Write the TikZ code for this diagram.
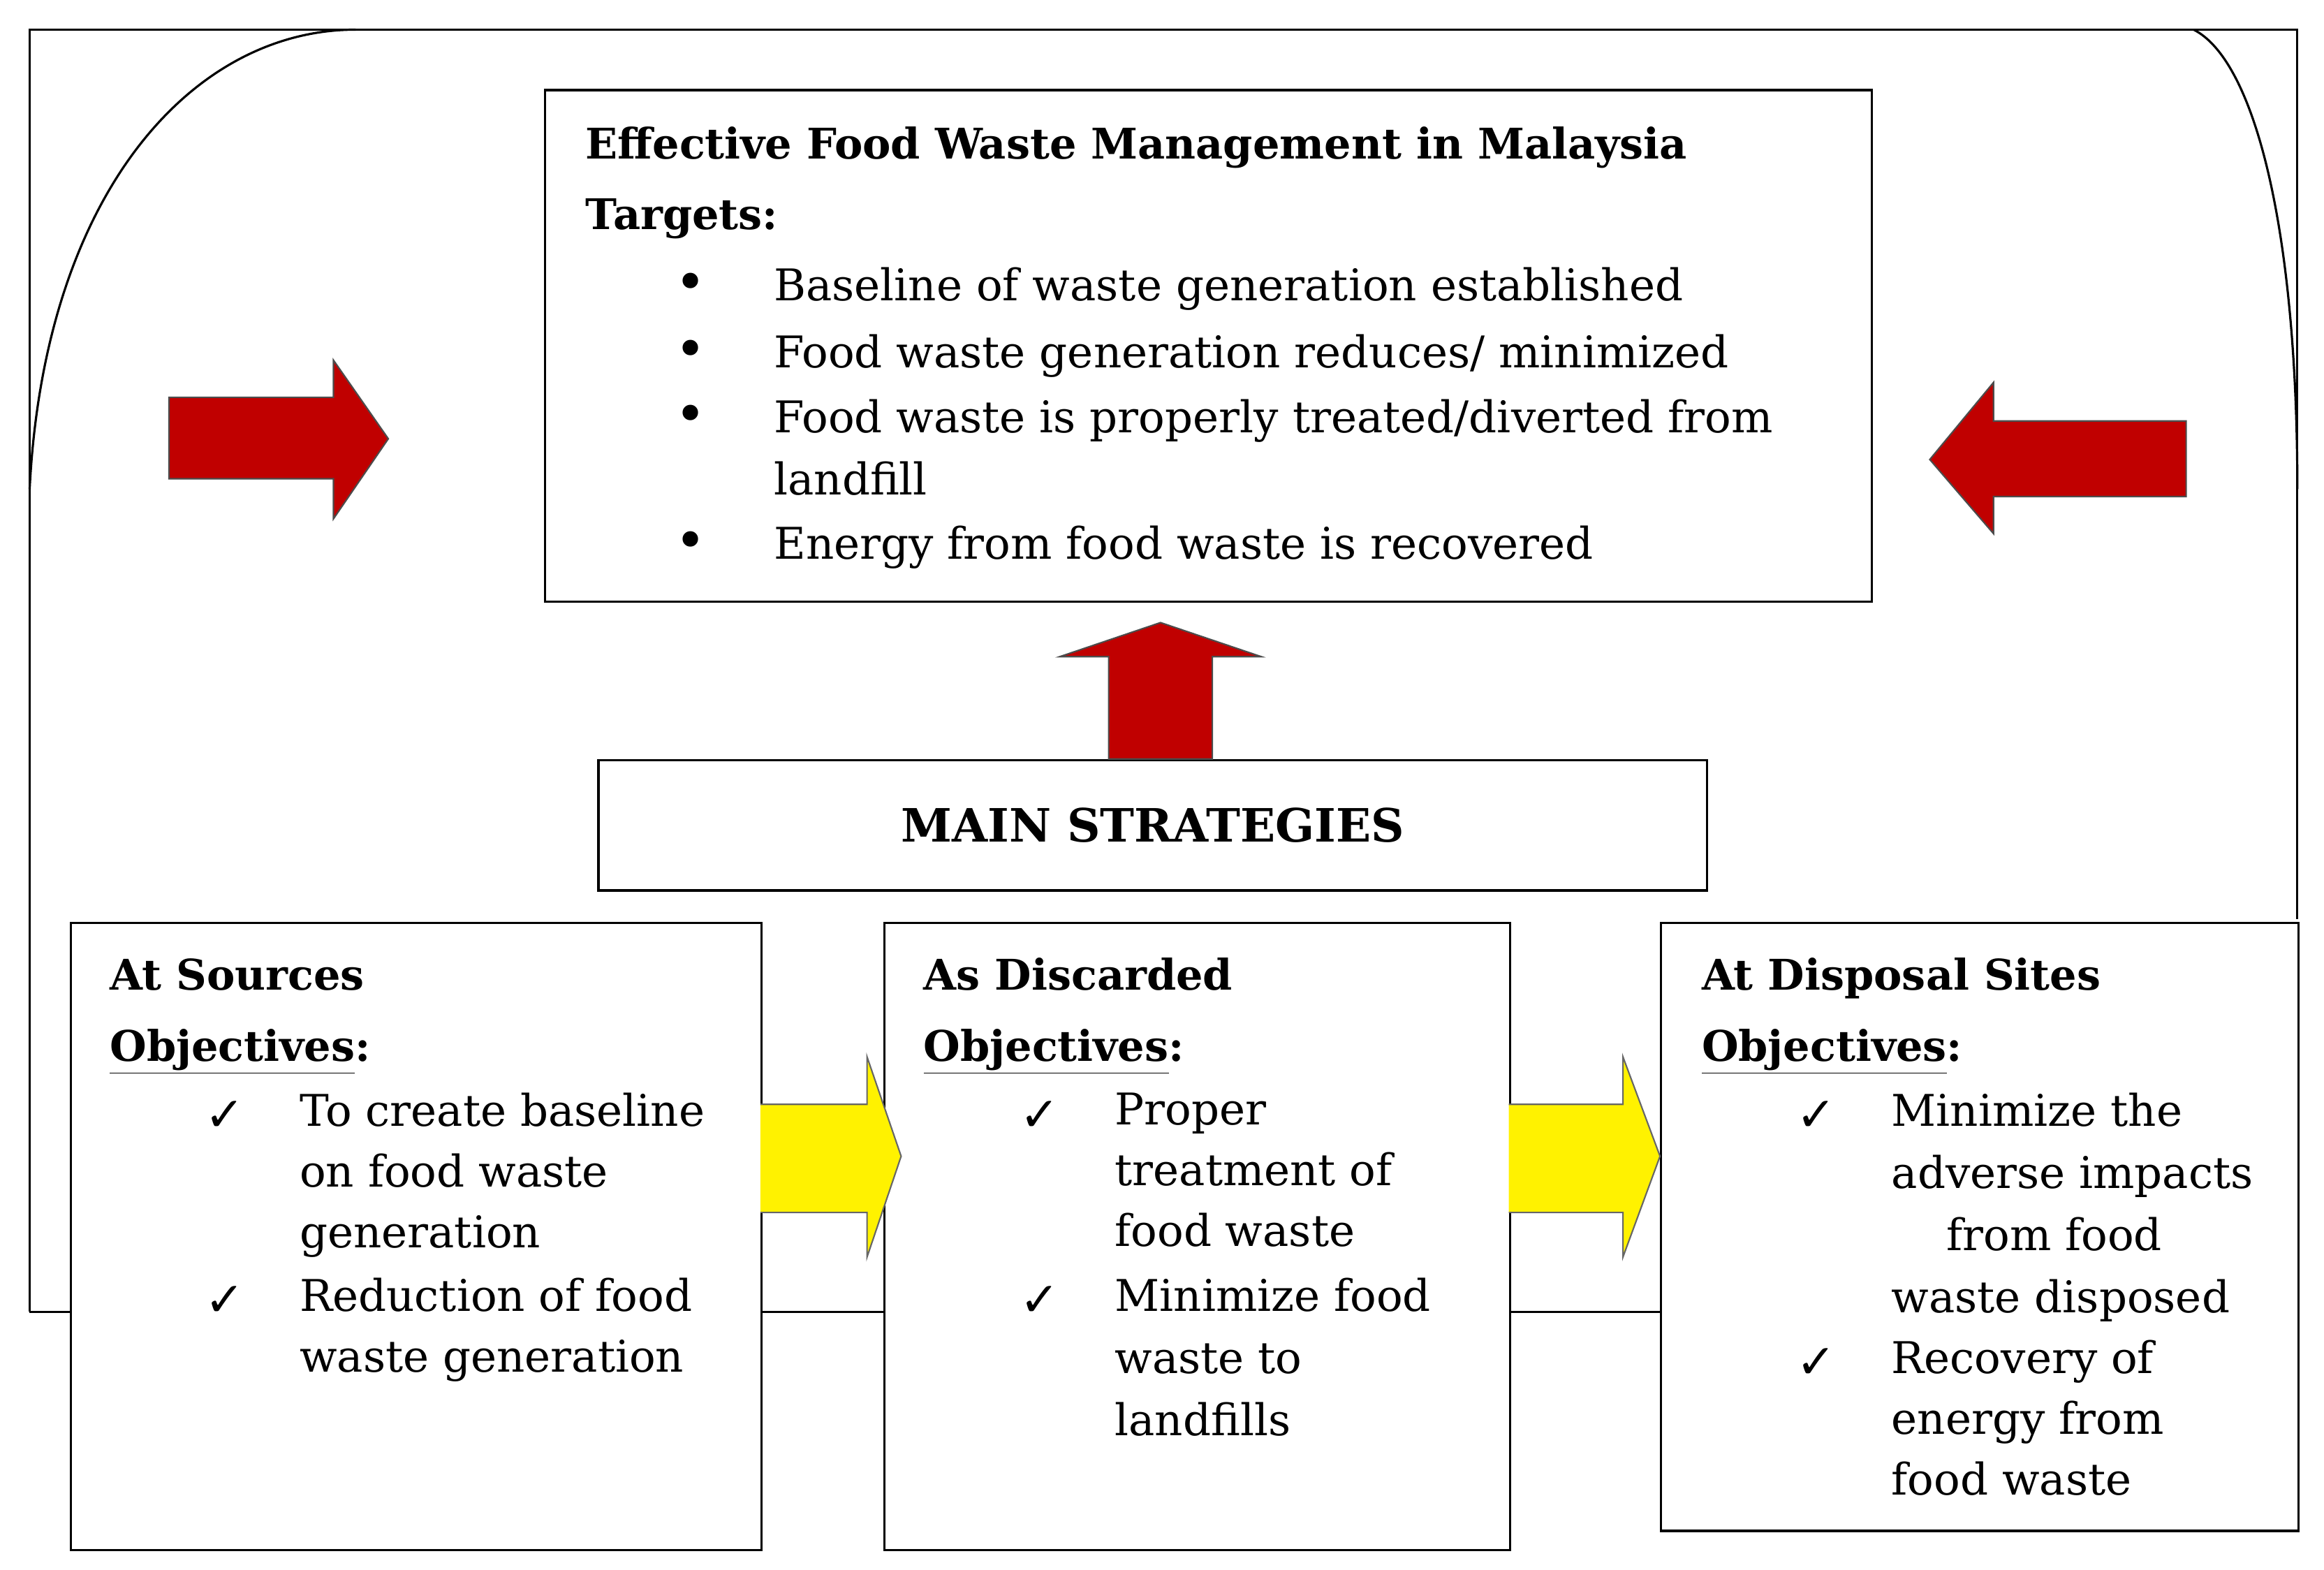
\documentclass[tikz,border=0pt]{standalone}
\usepackage{fontspec}
\setmainfont{DejaVu Serif}
\newfontfamily\dv{DejaVu Sans}
\begin{document}
\begin{tikzpicture}[x=1pt,y=-1pt,
  box/.style={draw,line width=1.5pt},
  red/.style={fill={rgb,255:red,192;green,0;blue,0},draw=black!70,line width=1pt},
  yel/.style={fill=yellow,draw=black!60,line width=1pt},
  t/.style={anchor=base west,inner sep=0pt,font=\fontsize{29.5}{32}\selectfont},
  ck/.style={anchor=base west,inner sep=0pt,font=\fontsize{32}{32}\selectfont\dv},
  tb/.style={t,font=\fontsize{28.5}{32}\selectfont\bfseries}]
\useasboundingbox (0,0) rectangle (1568,1059);
% frame
\draw[line width=1.5pt] (20,885) -- (20,20) -- (1550,20) -- (1550,620);
\draw[line width=1.5pt] (20,330) .. controls (30,130) and (130,20) .. (240,20);
\draw[line width=1.5pt] (1480,20) .. controls (1520,40) and (1550,150) .. (1550,330);
\draw[line width=1.5pt] (20,885) -- (47,885) (513,885) -- (596,885) (1018,885) -- (1120,885);
% boxes
\node[box,fill=white,minimum width=895,minimum height=345,anchor=north west] (top) at (367,60) {};
\node[box,fill=white,minimum width=748,minimum height=88,anchor=north west] (ms) at (403,512) {};
\node[font=\fontsize{31}{36}\selectfont\bfseries] (mst) at (ms.center) {MAIN STRATEGIES};
\node[box,fill=white,minimum width=466,minimum height=423,anchor=north west] (b1) at (47,622) {};
\node[box,fill=white,minimum width=422,minimum height=423,anchor=north west] (b2) at (596,622) {};
\node[box,fill=white,minimum width=430,minimum height=410,anchor=north west] (b3) at (1120,622) {};
% red arrows
\draw[red] (748,512) -- (748,443) -- (715,443) -- (783,420) -- (851,443) -- (818,443) -- (818,512) -- cycle;
\draw[red] (114,268) -- (225,268) -- (225,243) -- (262,296) -- (225,350) -- (225,323) -- (114,323) -- cycle;
\draw[red] (1475,284) -- (1345,284) -- (1345,258) -- (1302,310) -- (1345,360) -- (1345,335) -- (1475,335) -- cycle;
% yellow arrows
\draw[yel] (513,745) -- (585,745) -- (585,713) -- (608,780) -- (585,848) -- (585,818) -- (513,818);
\draw[yel] (1018,745) -- (1095,745) -- (1095,713) -- (1120,780) -- (1095,848) -- (1095,818) -- (1018,818);
% top text
\node[tb] (t1) at (395,107) {Effective Food Waste Management in Malaysia};
\node[tb] (t2) at (395,155) {Targets:};
\foreach \y/\s [count=\i] in {203/{Baseline of waste generation established},248/{Food waste generation reduces/ minimized},292/{Food waste is properly treated/diverted from},377/{Energy from food waste is recovered}}{
  \node[t,font=\fontsize{36}{32}\selectfont] (bu\i) at (455,\y) {\textbullet};
  \node[t] (tx\i) at (522,\y) {\s};}
\node[t] (tx5) at (522,334) {landfill};
% box texts
\node[tb] (a1) at (74,668) {At Sources};
\node[tb] (a2) at (74,716) {\underline{Objectives}:};
\node[ck] (c1) at (138,763) {✓};
\node[t,align=left,font=\fontsize{29.5}{41}\selectfont,anchor=north west] (a3) at (202,737) {To create baseline\\on food waste\\generation};
\node[ck] (c2) at (138,888) {✓};
\node[t,align=left,font=\fontsize{29.5}{41}\selectfont,anchor=north west] (a4) at (202,862) {Reduction of food\\waste generation};
\node[tb] (d1) at (623,668) {As Discarded};
\node[tb] (d2) at (623,716) {\underline{Objectives}:};
\node[ck] (c3) at (688,763) {✓};
\node[t,align=left,font=\fontsize{29.5}{41}\selectfont,anchor=north west] (d3) at (752,737) {Proper\\treatment of\\food waste};
\node[ck] (c4) at (688,888) {✓};
\node[t,align=left,font=\fontsize{29.5}{42}\selectfont,anchor=north west] (d4) at (752,862) {Minimize food\\waste to\\landfills};
\node[tb] (e1) at (1148,668) {At Disposal Sites};
\node[tb] (e2) at (1148,716) {\underline{Objectives}:};
\node[ck] (c5) at (1212,763) {✓};
\node[t,align=left,font=\fontsize{29.5}{42}\selectfont,anchor=north west] (e3) at (1276,737) {Minimize the\\adverse impacts\\\hspace{37pt}from food\\waste disposed};
\node[ck] (c6) at (1212,930) {✓};
\node[t,align=left,font=\fontsize{29.5}{41}\selectfont,anchor=north west] (e4) at (1276,904) {Recovery of\\energy from\\food waste};
\end{tikzpicture}
\end{document}
